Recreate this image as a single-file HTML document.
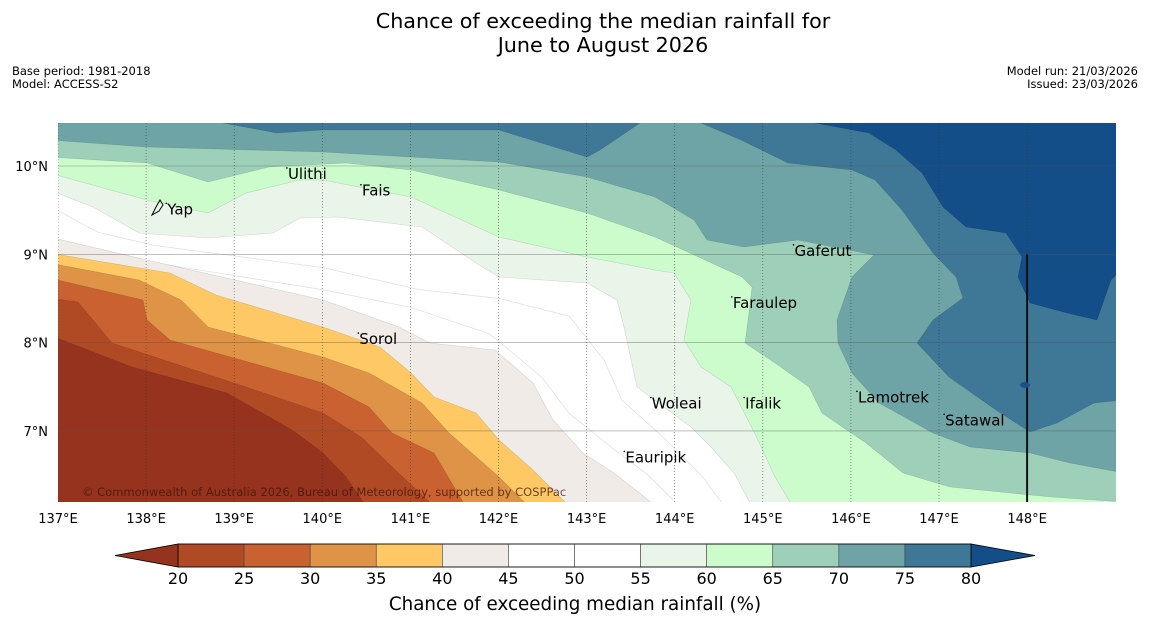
<!DOCTYPE html>
<html><head><meta charset="utf-8">
<style>
body{margin:0;background:#fff;width:1150px;height:644px;overflow:hidden;font-family:"DejaVu Sans","Liberation Sans",sans-serif}
svg{position:absolute;left:0;top:0}
</style></head>
<body>
<svg id="chart" width="1150" height="644" viewBox="0 0 1150 644" xmlns="http://www.w3.org/2000/svg">
<text x="603" y="28" font-size="20.7" text-anchor="middle" fill="#000">Chance of exceeding the median rainfall for</text>
<text x="603" y="52" font-size="20.7" text-anchor="middle" fill="#000">June to August 2026</text>
<text x="12" y="75" font-size="11.5">Base period: 1981-2018</text>
<text x="12" y="88" font-size="11.5">Model: ACCESS-S2</text>
<text x="1138" y="75" font-size="11.5" text-anchor="end">Model run: 21/03/2026</text>
<text x="1138" y="88" font-size="11.5" text-anchor="end">Issued: 23/03/2026</text>
<defs><clipPath id="mapclip"><rect x="58" y="123" width="1058" height="379"/></clipPath></defs>
<g id="map" clip-path="url(#mapclip)"><rect x="58" y="123" width="1058" height="379" fill="#fff"/></g>
<g id="axes"></g>
<g id="cbar"></g>
</svg>
<script>
const lonTicks=[137,138,139,140,141,142,143,144,145,146,147,148];
const latTicks=[10,9,8,7];
const bandLevels=[20,25,30,35,40,45,50,55,60,65,70,75,80];
const bandColors=['#96331e','#b04a25','#c96230','#df9347','#fec964','#f0ebe6','#ffffff','#ffffff','#eaf5ea','#ccfccc','#9ed0b9','#6ea4a6','#3f7896','#134e88'];
// contour regions [lon,lat]
const lt45=[[136.9,9.196],[138.01,8.935],[140.008,8.482],[140.871,8.177],[141.223,7.995],[141.96,7.916],[142.392,7.542],[142.619,7.124],[142.959,6.75],[143.311,6.523],[143.85,6.1]];
const lt40=[[136.9,9.015],[138.271,8.788],[138.793,8.539],[140.008,8.177],[140.655,7.95],[141.007,7.656],[141.268,7.384],[141.745,7.203],[142.006,6.897],[142.392,6.557],[142.85,6.1]];
const lt35=[[136.9,8.901],[137.919,8.709],[138.396,8.482],[138.703,8.177],[140.008,7.837],[140.53,7.656],[141.132,7.316],[141.438,6.976],[142.006,6.478],[142.392,6.1]];
const lt30=[[136.9,8.732],[137.965,8.482],[138.01,8.256],[138.271,8.029],[140.008,7.542],[140.53,7.271],[140.791,6.976],[141.268,6.75],[141.654,6.1]];
const lt25=[[136.9,8.505],[137.227,8.46],[137.613,7.995],[139.134,7.497],[140.008,7.203],[140.439,6.931],[140.746,6.637],[141.313,6.1]];
const lt20=[[136.9,8.086],[137.84,7.724],[138.918,7.429],[139.656,7.01],[140.008,6.75],[140.269,6.478],[140.53,6.1]];
const gt55=[[136.9,9.728],[137.397,9.536],[137.919,9.241],[138.703,9.185],[139.44,9.241],[139.747,9.411],[140.178,9.422],[141.132,9.309],[141.745,8.901],[142.006,8.743],[143.005,8.675],[143.345,8.482],[143.425,8.177],[143.572,7.497],[143.879,7.271],[144.185,7.044],[144.412,6.818],[144.673,6.523],[144.9,6.1]];
const gt60=[[136.9,9.921],[138.01,9.615],[138.703,9.468],[139.134,9.694],[139.747,9.841],[140.008,9.841],[141.007,9.649],[142.006,9.196],[143.005,8.969],[143.776,8.822],[143.992,8.788],[144.185,8.482],[144.106,8.029],[144.299,7.724],[144.639,7.497],[144.832,7.124],[144.946,6.897],[145.139,6.478],[145.365,6.1]];
const gt65=[[136.9,10.102],[138.01,10.034],[138.703,9.819],[139.395,9.989],[140.269,10.034],[141.007,9.955],[142.006,9.728],[143.005,9.468],[143.776,9.196],[144.765,8.743],[144.878,8.63],[144.832,8.256],[144.799,7.995],[145.139,7.769],[145.525,7.497],[145.672,7.203],[146.172,6.863],[146.592,6.523],[147.124,6.365],[147.807,6.297],[148.272,6.251],[149.1,6.195]];
const gt70=[[136.9,10.294],[138.01,10.215],[140.008,10.159],[142.006,10.045],[143.005,9.875],[143.776,9.649],[144.219,9.388],[144.367,9.162],[144.787,9.083],[145.4,9.162],[146.262,8.992],[146.013,8.743],[145.842,8.256],[145.854,7.995],[146.013,7.656],[146.319,7.316],[146.932,6.976],[147.352,6.818],[148.033,6.75],[148.487,6.637],[149.1,6.523]];
const gt75a=[[138.873,10.6],[138.873,10.487],[139.486,10.374],[140.008,10.408],[142.006,10.408],[143.005,10.102],[143.152,10.181],[143.606,10.487],[143.606,10.6]];
const gt75b=[[144.299,10.6],[144.299,10.487],[144.753,10.294],[145.286,10.034],[146.013,9.955],[146.274,9.841],[146.58,9.502],[146.932,9.015],[147.193,8.743],[147.272,8.505],[146.932,8.256],[146.75,7.995],[147.114,7.61],[147.647,7.237],[148.033,6.988],[148.339,7.089],[148.759,7.316],[149.1,7.35]];
const gt80=[[145.593,10.6],[145.593,10.487],[146.206,10.374],[146.512,10.181],[146.807,9.921],[147.045,9.536],[147.306,9.309],[147.761,9.241],[147.942,8.969],[147.897,8.743],[148.033,8.449],[148.453,8.335],[148.793,8.256],[148.952,8.709],[149.1,8.86]];
const line50a=[[136.9,9.55],[137.45,9.25],[138.1,9.1],[140.0,8.85],[141.1,8.6],[142.0,8.5],[142.8,8.3],[143.2,7.8],[143.4,7.35],[143.9,6.9],[144.3,6.5],[144.6,6.1]];
const line50b=[[136.9,9.15],[137.8,8.95],[140.0,8.6],[141.0,8.4],[141.9,8.1],[142.5,7.6],[142.8,7.2],[143.3,6.8],[143.7,6.5],[144.1,6.1]];
const placeNames=['Ulithi','Fais','Yap','Gaferut','Faraulep','Sorol','Lamotrek','Satawal','Woleai','Ifalik','Eauripik'];
const placeLon=[139.61,140.45,138.24,145.36,144.66,140.42,146.08,147.07,143.74,144.8,143.44];
const placeLat=[9.91,9.72,9.51,9.04,8.45,8.04,7.38,7.12,7.31,7.31,6.7];

const NS='http://www.w3.org/2000/svg';
const X=lon=>58+(lon-137)*88.1;
const Y=lat=>166+(10-lat)*88.3;
function mk(tag,attrs,parent){const e=document.createElementNS(NS,tag);for(const k in attrs)e.setAttribute(k,attrs[k]);parent.appendChild(e);return e;}
const map=document.getElementById('map');
const pathD=pts=>'M'+pts.map(p=>X(p[0]).toFixed(1)+','+Y(p[1]).toFixed(1)).join('L');
function region(pts,close,color,name){
  const p=mk('path',{d:pathD(pts.concat(close))+'Z',fill:color,stroke:'rgba(0,0,0,0.15)','stroke-width':0.6},map);
  
  
}
const BL=[[136.9,6.1]], TOP=[[149.1,10.6],[136.9,10.6]], BR=[[149.1,6.1],[149.1,10.6],[136.9,10.6]];
[line50a,line50b].forEach(l=>{const p=mk('path',{d:pathD(l),fill:'none',stroke:'rgba(0,0,0,0.13)','stroke-width':0.7},map);
});
region(lt45,BL,bandColors[5],'region-below-45');
region(lt40,BL,bandColors[4],'region-below-40');
region(lt35,BL,bandColors[3],'region-below-35');
region(lt30,BL,bandColors[2],'region-below-30');
region(lt25,BL,bandColors[1],'region-below-25');
region(lt20,BL,bandColors[0],'region-below-20');
region(gt55,BR,bandColors[8],'region-above-55');
region(gt60,BR,bandColors[9],'region-above-60');
region(gt65,BR,bandColors[10],'region-above-65');
region(gt70,TOP,bandColors[11],'region-above-70');
region(gt75a,[],bandColors[12],'region-above-75-west');
region(gt75b,TOP,bandColors[12],'region-above-75-east');
region(gt80,[[149.1,10.6]],bandColors[13],'region-above-80');

lonTicks.forEach(l=>{const g=mk('line',{x1:X(l),x2:X(l),y1:123,y2:502,stroke:'#333','stroke-width':0.7,'stroke-dasharray':'1,2',opacity:0.7},map);
});
latTicks.forEach(l=>{const g=mk('line',{x1:58,x2:1116,y1:Y(l),y2:Y(l),stroke:'#555','stroke-width':0.6,opacity:0.6},map);
});
const bl=mk('line',{x1:X(148),x2:X(148),y1:Y(9),y2:502,stroke:'#111','stroke-width':2},map);

const dot=mk('ellipse',{cx:1025,cy:385,rx:5,ry:3,fill:'#1f4f88'},map);

const yap=mk('path',{d:'M152,215 L156,207 L160,200 L163,205 L159,211 Z',fill:'none',stroke:'#000','stroke-width':1},map);

placeNames.forEach((n,i)=>{
  const t=mk('text',{x:X(placeLon[i]),y:Y(placeLat[i])+5,'font-size':15,fill:'#000'},map);t.textContent=n;
  
  const m=mk('circle',{cx:X(placeLon[i])-1,cy:Y(placeLat[i])-6,r:0.8,fill:'#000'},map);
  
});
const cp=mk('text',{x:82,y:496,'font-size':11.5,fill:'rgba(60,20,10,0.75)'},map);
cp.textContent='© Commonwealth of Australia 2026, Bureau of Meteorology, supported by COSPPac';


const axes=document.getElementById('axes');
lonTicks.forEach(l=>{const t=mk('text',{x:X(l),y:523,'font-size':13,'text-anchor':'middle'},axes);t.textContent=l+'°E';
});
latTicks.forEach(l=>{const t=mk('text',{x:48,y:Y(l)+5,'font-size':13,'text-anchor':'end'},axes);t.textContent=l+'°N';
});

const cb=document.getElementById('cbar');
const C0=178,C1=971,CY=544,CH=23;
const CX=v=>C0+(v-20)/60*(C1-C0);
const lt=mk('polygon',{points:`115,${CY+CH/2} ${C0},${CY} ${C0},${CY+CH}`,fill:bandColors[0],stroke:'#000','stroke-width':0.8},cb);

const rt=mk('polygon',{points:`1035,${CY+CH/2} ${C1},${CY} ${C1},${CY+CH}`,fill:bandColors[13],stroke:'#000','stroke-width':0.8},cb);

for(let i=0;i<bandLevels.length-1;i++){
  const r=mk('rect',{x:CX(bandLevels[i]),y:CY,width:CX(bandLevels[i+1])-CX(bandLevels[i]),height:CH,fill:bandColors[i+1],stroke:'#444','stroke-width':0.6},cb);
  
}
const ob=mk('rect',{x:C0,y:CY,width:C1-C0,height:CH,fill:'none',stroke:'#000','stroke-width':0.8},cb);

bandLevels.forEach(v=>{const t=mk('text',{x:CX(v),y:584,'font-size':16,'text-anchor':'middle'},cb);t.textContent=v;
});
const ct=mk('text',{x:575,y:610,'font-size':18.3,'text-anchor':'middle'},cb);
ct.textContent='Chance of exceeding median rainfall (%)';

</script>
</body></html>
